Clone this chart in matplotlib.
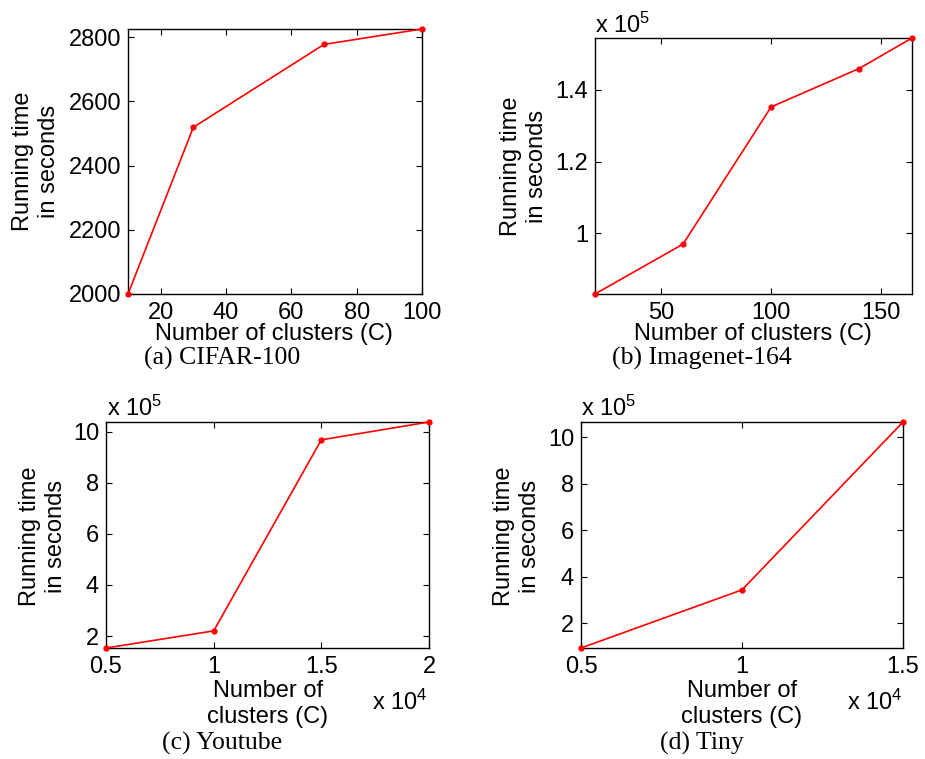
import matplotlib
matplotlib.use("Agg")
import matplotlib.pyplot as plt
from matplotlib.ticker import FuncFormatter

plt.rcParams['font.family'] = ['Liberation Sans', 'DejaVu Sans']
plt.rcParams['mathtext.fontset'] = 'custom'
plt.rcParams['mathtext.rm'] = 'Liberation Sans'
plt.rcParams['mathtext.it'] = 'Liberation Sans'

# Running time (seconds) versus number of clusters for each dataset
cifar_clusters = [10, 30, 70, 100]
cifar_time = [2000, 2519, 2777, 2825]

imagenet_clusters = [20, 60, 100, 140, 164]
imagenet_time = [83100, 97000, 135200, 145900, 154400]

youtube_clusters = [5000, 10000, 15000, 20000]
youtube_time = [153000, 220000, 969000, 1039000]

tiny_clusters = [5000, 10000, 15000]
tiny_time = [94000, 344000, 1066000]

cifar_xticks = [20, 40, 60, 80, 100]
cifar_yticks = [2000, 2200, 2400, 2600, 2800]
imagenet_xticks = [50, 100, 150]
imagenet_yticks = [1.0, 1.2, 1.4]
youtube_xticks = [0.5, 1, 1.5, 2]
youtube_yticks = [2, 4, 6, 8, 10]
tiny_xticks = [0.5, 1, 1.5]
tiny_yticks = [2, 4, 6, 8, 10]

W, H = 925, 759
fig = plt.figure(figsize=(W / 100, H / 100), dpi=100)

FS = 17
CAP_FS = 18.5
LS = 1.2


def px_axes(left, top, right, bottom):
    return fig.add_axes([left / W, 1 - bottom / H, (right - left) / W, (bottom - top) / H])


def style(ax):
    ax.tick_params(direction='in', length=4, width=0.8, top=True, right=True,
                   labelsize=FS, pad=5, colors='black')
    ax.tick_params(axis='x', pad=6)
    for s in ax.spines.values():
        s.set_linewidth(1.0)
    ax.xaxis.set_major_formatter(FuncFormatter(lambda v, p: '%g' % v))
    ax.yaxis.set_major_formatter(FuncFormatter(lambda v, p: '%g' % v))


def draw(ax, x, y):
    ax.plot(x, y, color='red', linewidth=1.2, marker='.', markersize=7, clip_on=False, zorder=5)
    ax.set_xlim(min(x), max(x))
    ax.set_ylim(min(y), max(y))


def ftext(x, y, s, **kw):
    fig.text(x / W, 1 - y / H, s, **kw)


ylabel = 'Running time\nin seconds'

# (a) CIFAR-100
ax = px_axes(128, 29, 422, 294)
draw(ax, cifar_clusters, cifar_time)
ax.set_xticks(cifar_xticks)
ax.set_yticks(cifar_yticks)
style(ax)
ftext(36, 161, ylabel, rotation=90, ha='center', va='center', fontsize=FS, linespacing=LS)
ftext(274, 334, 'Number of clusters (C)', ha='center', va='center', fontsize=FS)
ftext(222, 358, '(a) CIFAR-100', ha='center', va='center', fontsize=CAP_FS, family='Liberation Serif')

# (b) Imagenet-164
ax = px_axes(595, 38, 912, 294)
draw(ax, imagenet_clusters, [t / 1e5 for t in imagenet_time])
ax.set_xticks(imagenet_xticks)
ax.set_yticks(imagenet_yticks)
style(ax)
ftext(524, 166, ylabel, rotation=90, ha='center', va='center', fontsize=FS, linespacing=LS)
ftext(595, 33, r'x 10$^{5}$', ha='left', va='baseline', fontsize=FS)
ftext(753, 334, 'Number of clusters (C)', ha='center', va='center', fontsize=FS)
ftext(702, 358, '(b) Imagenet-164', ha='center', va='center', fontsize=CAP_FS, family='Liberation Serif')

# (c) Youtube
ax = px_axes(106, 422, 429, 648)
draw(ax, [c / 1e4 for c in youtube_clusters], [t / 1e5 for t in youtube_time])
ax.set_xticks(youtube_xticks)
ax.set_yticks(youtube_yticks)
style(ax)
ftext(43, 536, ylabel, rotation=90, ha='center', va='center', fontsize=FS, linespacing=LS)
ftext(107, 416, r'x 10$^{5}$', ha='left', va='baseline', fontsize=FS)
ftext(268, 704, 'Number of\nclusters (C)', ha='center', va='center', fontsize=FS, linespacing=LS)
ftext(428, 710, r'x 10$^{4}$', ha='right', va='baseline', fontsize=FS)
ftext(222, 743, '(c) Youtube', ha='center', va='center', fontsize=CAP_FS, family='Liberation Serif')

# (d) Tiny
ax = px_axes(581, 422, 903, 648)
draw(ax, [c / 1e4 for c in tiny_clusters], [t / 1e5 for t in tiny_time])
ax.set_xticks(tiny_xticks)
ax.set_yticks(tiny_yticks)
style(ax)
ftext(517, 536, ylabel, rotation=90, ha='center', va='center', fontsize=FS, linespacing=LS)
ftext(581, 416, r'x 10$^{5}$', ha='left', va='baseline', fontsize=FS)
ftext(742, 704, 'Number of\nclusters (C)', ha='center', va='center', fontsize=FS, linespacing=LS)
ftext(903, 710, r'x 10$^{4}$', ha='right', va='baseline', fontsize=FS)
ftext(702, 743, '(d) Tiny', ha='center', va='center', fontsize=CAP_FS, family='Liberation Serif')

fig.savefig('out.png', dpi=100)
